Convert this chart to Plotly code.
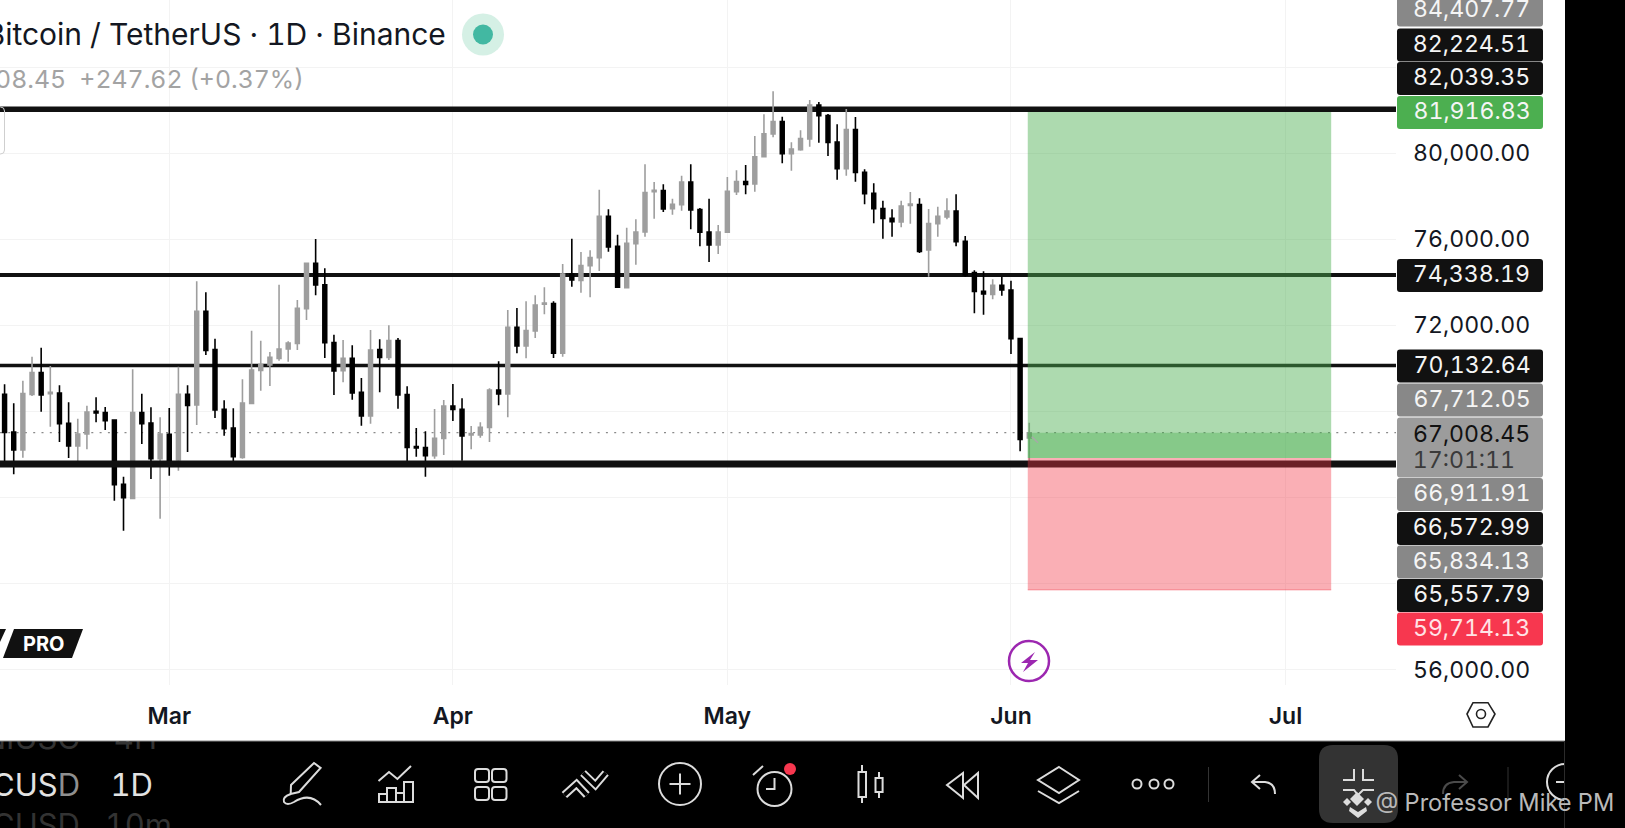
import pandas as pd
import plotly.graph_objects as go

# daily candles, first one is 11 Feb
start_date = "2026-02-11"
opens = [
    68792, 67042, 66205, 68792, 69799, 68823, 68854, 67444, 66391, 66949,
    68002, 67940, 67599, 64610, 63959, 67940, 67460, 65803, 66933, 65741,
    68792, 68296, 72649, 70868, 68095, 67228, 65865, 68374, 69907, 70155,
    70465, 70899, 71162, 72773, 74880, 73888, 71193, 69892, 70465, 68885,
    67785, 70868, 70512, 71286, 68777, 66360, 66314, 65942, 66748, 68250,
    68095, 66903, 66903, 67259, 68994, 68808, 71906, 71038, 71736, 72975,
    73006, 70698, 74384, 74090, 74772, 75143, 77064, 75670, 73749, 75794,
    76336, 78210, 78257, 77420, 77606, 78660, 77374, 76336, 75732, 76321,
    78210, 78675, 78566, 79836, 80890, 81463, 79976, 80162, 80657, 82237,
    81742, 80518, 79279, 81091, 79108, 78132, 77420, 76971, 76800, 77575,
    77606, 75499, 76723, 77033, 77311, 75902, 74446, 73578, 73439, 73857,
    73640, 71379, 66760.83,
]
highs = [
    69257, 68374, 69427, 70542, 70961, 70109, 69210, 68420, 67661, 68265,
    68653, 68204, 67630, 64966, 69954, 68823, 68188, 67723, 68157, 70078,
    69210, 74043, 73532, 71379, 68513, 68142, 69489, 71751, 71286, 70759,
    73888, 71255, 73176, 74880, 76010, 74647, 71565, 71317, 71069, 69551,
    71782, 71348, 71999, 71410, 69164, 67228, 67073, 68111, 68529, 69273,
    68607, 67321, 67491, 69071, 70326, 72711, 72804, 73114, 73393, 73765,
    73114, 74849, 76026, 75407, 75484, 78303, 77389, 76212, 76537, 76925,
    79481, 78660, 78551, 77885, 78954, 79481, 77451, 77885, 76661, 78892,
    79201, 79449, 80797, 81804, 82872, 81695, 80502, 81060, 82470, 82377,
    81819, 81339, 82051, 81680, 79248, 78597, 77792, 77389, 77792, 78194,
    77900, 77404, 77513, 77900, 78086, 76150, 74554, 74508, 74136, 74260,
    74074, 71404, 67475,
]
lows = [
    65663, 65075, 65849, 68715, 67987, 67290, 66577, 65834, 65586, 66236,
    67491, 67135, 63851, 62457, 63913, 66484, 64858, 63014, 65013, 65245,
    66112, 67367, 70620, 67692, 66871, 65663, 65803, 68343, 68963, 69179,
    70357, 70310, 70852, 72246, 73393, 70481, 68761, 69350, 68544, 67336,
    67429, 68885, 70388, 68126, 65508, 65895, 64966, 65803, 65973, 67553,
    65710, 66237, 66779, 66577, 68281, 67724, 70698, 70465, 71410, 72510,
    70481, 70543, 73796, 73517, 73300, 74524, 75422, 73749, 73718, 74818,
    76119, 76956, 77265, 77142, 77327, 76460, 75670, 74942, 75314, 76321,
    78055, 78086, 78210, 79821, 80735, 79526, 79186, 80115, 80301, 80487,
    79867, 78767, 78953, 78675, 77621, 76738, 76026, 76119, 76552, 76723,
    75360, 74260, 76119, 76924, 75669, 74260, 72556, 72494, 73207, 73377,
    70666, 66143, 65399,
]
closes = [
    67026, 66205, 68823, 69799, 68761, 68885, 67429, 66391, 66949, 67971,
    67925, 67568, 64594, 63990, 67940, 67429, 65803, 66949, 65679, 68792,
    68281, 72649, 70837, 68064, 67197, 65895, 68389, 69923, 70171, 70512,
    70899, 71178, 72789, 74880, 73873, 71193, 69876, 70465, 68854, 67785,
    70852, 70512, 71286, 68761, 66329, 66298, 65942, 66748, 68250, 68095,
    66856, 66965, 67259, 68994, 68808, 71906, 71038, 71751, 72944, 73037,
    70698, 74384, 74105, 74772, 75143, 77064, 75639, 73765, 75809, 76336,
    78164, 78272, 77405, 77622, 78660, 77358, 76321, 75732, 76336, 78226,
    78675, 78551, 79836, 80905, 81463, 79976, 80193, 80673, 82237, 81742,
    80502, 79279, 81091, 79108, 78117, 77420, 76971, 76816, 77544, 77637,
    75437, 76723, 77064, 77311, 75886, 74337, 73578, 73454, 73857, 73640,
    71379, 66701, 67008.45,
]

month_ticks = ["2026-03-01", "2026-04-01", "2026-05-01", "2026-06-01", "2026-07-01"]
month_labels = ["Mar", "Apr", "May", "Jun", "Jul"]
price_ticks = [56000, 60000, 64000, 68000, 72000, 76000, 80000, 84000]
price_labels = ["56,000.00", "", "", "", "72,000.00", "76,000.00", "80,000.00", ""]

x_range = ["2026-02-10 12:00", "2026-07-13 02:00"]

# horizontal levels and long position box
levels = [82039.35, 74338.19, 70132.64]
level_widths = [5.5, 4, 3.5]
floor_level = 65557.79
last_price = 67008.45
target_price = 81916.83
entry_price = 65834.13
stop_price = 59714.13
box_start = "2026-06-02 20:00"
box_end = "2026-07-06"

# price tags on the right: text, centre y, fill, text colour
tag_text = ["84,407.77", "82,224.51", "82,039.35", "81,916.83", "74,338.19", "70,132.64",
            "67,712.05", "66,911.91", "66,572.99", "65,834.13", "65,557.79", "59,714.13"]
tag_y = [10, 45, 78.5, 112.5, 275.5, 366, 400, 494.5, 528.5, 562, 595.5, 629]
tag_fill = ["#888888", "#111111", "#111111", "#4caf50", "#111111", "#111111",
            "#888888", "#888888", "#111111", "#888888", "#111111", "#f7374f"]

FONT = "Inter"
INK = "#dcdcdc"

shapes = []


def stroke(points, color=INK, width=2, closed=False, fill=None):
    path = "M " + " L ".join(f"{x} {y}" for x, y in points) + (" Z" if closed else "")
    shapes.append(dict(type="path", xref="x2", yref="y2", layer="above", path=path,
                       line=dict(color=color, width=width), fillcolor=fill))


def curve(path, color=INK, width=2):
    shapes.append(dict(type="path", xref="x2", yref="y2", layer="above", path=path,
                       line=dict(color=color, width=width)))


def solid(points, fill):
    path = "M " + " L ".join(f"{x} {y}" for x, y in points) + " Z"
    shapes.append(dict(type="path", xref="x2", yref="y2", layer="above", path=path,
                       line=dict(width=0), fillcolor=fill))


def ring(cx, cy, r, color=INK, width=2, fill=None):
    shapes.append(dict(type="circle", xref="x2", yref="y2", layer="above",
                       x0=cx - r, x1=cx + r, y0=cy - r, y1=cy + r,
                       line=dict(color=color, width=width), fillcolor=fill))


def rounded(x0, y0, x1, y1, r, fill=None, color=None, width=0):
    path = (f"M {x0 + r} {y0} L {x1 - r} {y0} Q {x1} {y0} {x1} {y0 + r} L {x1} {y1 - r} "
            f"Q {x1} {y1} {x1 - r} {y1} L {x0 + r} {y1} Q {x0} {y1} {x0} {y1 - r} "
            f"L {x0} {y0 + r} Q {x0} {y0} {x0 + r} {y0} Z")
    shapes.append(dict(type="path", xref="x2", yref="y2", layer="above", path=path,
                       line=dict(color=color or "rgba(0,0,0,0)", width=width), fillcolor=fill))


def price_box(y0, y1, fill, edge=None):
    shapes.append(dict(type="rect", xref="x", yref="y", layer="above", x0=box_start, x1=box_end,
                       y0=y0, y1=y1, line=dict(width=0), fillcolor=fill))
    if edge:
        shapes.append(dict(type="line", xref="x", yref="y", layer="above", x0=box_start, x1=box_end,
                           y0=y0, y1=y0, line=dict(color=edge, width=1.5)))


# levels between the grid and the candles, dotted last price too
for value, lw in zip(levels, level_widths):
    shapes.append(dict(type="line", xref="x", yref="y", layer="between", x0=x_range[0], x1=x_range[1],
                       y0=value, y1=value, line=dict(color="#111111", width=lw)))
shapes.append(dict(type="line", xref="x", yref="y", layer="between", x0=x_range[0], x1=x_range[1],
                   y0=last_price, y1=last_price, line=dict(color="#8a8a8a", width=1.2, dash="2px,6.3px")))

# floor line sits over the candles, then the position box over everything
shapes.append(dict(type="line", xref="x", yref="y", layer="above", x0=x_range[0], x1=x_range[1],
                   y0=floor_level, y1=floor_level, line=dict(color="#111111", width=7)))
price_box(entry_price, target_price, "rgba(76,175,80,0.46)")
price_box(entry_price, last_price, "rgba(76,175,80,0.40)")
price_box(stop_price, entry_price, "rgba(242,54,69,0.40)", edge="rgba(242,54,69,0.35)")

# toolbar background goes under the text row, bottom row trace has to clip against it
shapes.append(dict(type="rect", xref="paper", yref="paper", layer="below", x0=0, x1=1, y0=0, y1=87 / 828,
                   line=dict(width=0), fillcolor="#000000"))
stroke([(0, 741), (1565, 741)], "#8a8a8a", 1)

# small arrow by the last candle and the tool handle on the left
stroke([(1031.7, 436.7), (1038, 442.7)], "#a8a8a8", 1.5)
rounded(-8, 107, 4.5, 154, 4, color="#cfcfcf", width=1)

# PRO badge, lightning, settings hexagon
solid([(0, 629), (6, 629), (0, 642)], "#111111")
solid([(3, 658), (14, 629), (83, 629), (72, 658)], "#111111")
ring(1029, 661, 20, "#9c27b0", 2.5)
solid([(1035, 652), (1021, 663), (1028, 663), (1023, 672), (1038, 660), (1030, 660)], "#9c27b0")
stroke([(1467, 714), (1473, 702.7), (1488, 702.7), (1495, 714), (1488, 727), (1473, 727)], "#222222", 1.6, closed=True)
ring(1481, 714, 4.5, "#222222", 1.6)

# status dot by the title
ring(483, 34.5, 21, "rgba(0,0,0,0)", 0, "#d5f0e5")
ring(483, 34.5, 10, "rgba(0,0,0,0)", 0, "#42b8a2")

# price tags
for y, fill in zip(tag_y, tag_fill):
    rounded(1397, y - 16.6, 1543, y + 16.6, 3, fill)
rounded(1397, 417.5, 1543, 477.5, 3, "#9c9c9c")

# toolbar icons
stroke([(290.7, 794), (291, 785), (314, 763), (320.6, 768), (299, 792)], closed=True)
curve("M 290.7 794 Q 282 797 284 802 Q 287 806 294 802 Q 310 792 321 805")
stroke([(378.5, 781), (389, 772), (397.4, 779), (411, 766)])
for x0, y0, x1 in [(379, 794, 387), (387, 788, 396), (396, 793, 404), (404, 782, 413)]:
    stroke([(x0, y0), (x1, y0), (x1, 802), (x0, 802)], closed=True)
for x0, x1 in [(475, 489), (492, 506.5)]:
    for y0, y1 in [(769, 782), (787, 800)]:
        rounded(x0, y0, x1, y1, 3, color=INK, width=2)
for pts in [[(564.4, 795), (576.5, 784), (586.8, 795)], [(583, 773), (595.4, 785), (605.7, 773)]]:
    stroke(pts, INK, 8)
    stroke(pts, "#000000", 4)
ring(680, 784, 21)
stroke([(669.5, 784), (690.5, 784)])
stroke([(680, 773.5), (680, 794.5)])
ring(774.5, 789, 17)
stroke([(774.5, 778), (774.5, 789), (766, 789)])
stroke([(753, 775), (763, 766)])
ring(790, 769, 6, "rgba(0,0,0,0)", 0, "#f7374f")
stroke([(862, 765), (862, 772)])
stroke([(862, 797), (862, 803)])
stroke([(858.5, 772), (866, 772), (866, 797), (858.5, 797)], closed=True)
stroke([(879, 772), (879, 778)])
stroke([(879, 792), (879, 798)])
stroke([(875.5, 778), (882.6, 778), (882.6, 792), (875.5, 792)], closed=True)
stroke([(947, 785), (963, 773), (963, 798)], closed=True)
stroke([(964, 785), (978, 773), (978, 798)], closed=True)
stroke([(1059, 767), (1079, 780), (1059, 793), (1038, 780)], closed=True)
stroke([(1038, 791), (1059, 803), (1079, 791)])
for x in [1137, 1154, 1169]:
    ring(x, 784, 4.5)
stroke([(1208.5, 767), (1208.5, 802)], "#333333", 1)
stroke([(1260, 775), (1252, 782), (1260, 789)])
curve("M 1252 782 L 1265 782 Q 1275 783 1275 794")
rounded(1319, 745, 1398, 823, 14, "#333333")
stroke([(1343, 780), (1354, 780), (1354, 769)])
stroke([(1363, 769), (1363, 780), (1374, 780)])
stroke([(1343, 790), (1354, 790), (1358, 795), (1363, 790), (1374, 790)])
solid([(1357, 792), (1364, 799), (1357, 806), (1350, 799)], "#dddddd")
solid([(1347, 798), (1351, 802), (1347, 806), (1343, 802)], "#dddddd")
solid([(1368, 798), (1372, 802), (1368, 806), (1364, 802)], "#dddddd")
solid([(1350, 807), (1358, 812), (1366, 807), (1367, 811), (1358, 818), (1349, 811)], "#dddddd")
stroke([(1459, 775), (1467, 782), (1459, 789)], "#4a4a4a")
curve("M 1467 782 L 1454 782 Q 1443 783 1443 794", "#4a4a4a")
stroke([(1508, 767), (1508, 800)], "#333333", 1)
ring(1565, 782, 18)
stroke([(1556, 782), (1564, 782)])

# black bar on the right edge covers the clipped icon
shapes.append(dict(type="rect", xref="x2", yref="y2", layer="above", x0=1565, x1=1625, y0=0, y1=828,
                   line=dict(width=0), fillcolor="#000000"))
stroke([(1564.5, 741), (1564.5, 828)], "#2b2b2b", 1)


def note(text, x, y, size, color, anchor="center", weight=None):
    return dict(text=text, x=x, y=y, xref="x2", yref="y2", showarrow=False, xanchor=anchor, yanchor="middle",
                font=dict(family=FONT, size=size, color=color, weight=weight))


annotations = [
    note("Bitcoin / TetherUS · 1D · Binance", 445, 33.5, 30, "#131722", "right"),
    note("67,008.45  +247.62 (+0.37%)", 295, 79, 24.8, "#a3a3a3", "right"),
    note("PRO", 44, 644, 20, "#ffffff", weight=700),
    note("67,008.45", 1471.5, 433.5, 23.1, "#111111"),
    note("17:01:11", 1464, 460, 23.1, "#3a3a3a"),
    note("@ Professor Mike PM", 1617, 802, 23.6, "#b9b9b9", "right"),
]
for text, y in zip(tag_text, tag_y):
    annotations.append(note(text, 1471.5, y - 1.2, 23.1, "#f5f5f5"))
annotations[-1]["font"]["color"] = "#ffe3e6"

fig = go.Figure()
fig.add_trace(go.Candlestick(
    x=pd.date_range(start_date, periods=len(opens)),
    open=opens, high=highs, low=lows, close=closes,
    increasing=dict(line=dict(color="#9e9e9e", width=1.6), fillcolor="#9e9e9e"),
    decreasing=dict(line=dict(color="#000000", width=1.6), fillcolor="#000000"),
    whiskerwidth=0, showlegend=False, hoverinfo="skip",
))
# watchlist rows behind the toolbar, clipped at the toolbar's top edge
fig.add_trace(go.Scatter(
    x=[80, 157, 80, 153, 80, 172], y=[741, 741, 788, 788, 827.9, 827.9],
    xaxis="x3", yaxis="y3", mode="text", textposition="middle left", showlegend=False, hoverinfo="skip",
    text=["NIUSC", "4H", "CUS<span style='color:#8f8f8f'>D</span>", "1D", "CUSD", "10m"],
    textfont=dict(family=FONT, size=31, color=["#333333", "#333333", "#e2e2e2", "#e2e2e2", "#333333", "#333333"]),
))

grid = "#f3f3f3"
fig.update_layout(
    width=1625, height=828, autosize=False,
    margin=dict(l=0, r=0, t=0, b=0),
    paper_bgcolor="#ffffff", plot_bgcolor="rgba(0,0,0,0)",
    boxgap=0.4, showlegend=False,
    shapes=shapes, annotations=annotations,
    xaxis=dict(
        domain=[0, 1396 / 1625], range=x_range, type="date",
        rangeslider=dict(visible=False), tickmode="array", tickvals=month_ticks, ticktext=month_labels,
        tickfont=dict(family=FONT, size=23, color="#131722", weight=600), ticks="", ticklabelstandoff=15,
        showgrid=True, gridcolor=grid, gridwidth=1, zeroline=False, showline=False, anchor="y",
    ),
    yaxis=dict(
        domain=[143 / 828, 1], range=[55285, 87117], side="right", tickmode="array",
        tickvals=price_ticks, ticktext=price_labels, ticklabelstandoff=16,
        tickfont=dict(family=FONT, size=23.1, color="#131722"), ticks="",
        showgrid=True, gridcolor=grid, gridwidth=1, zeroline=False, showline=False, anchor="x",
    ),
    # whole page in pixels, for the interface drawn round the chart
    xaxis2=dict(domain=[0, 1], range=[0, 1625], visible=False, anchor="y2", fixedrange=True),
    yaxis2=dict(domain=[0, 1], range=[828, 0], visible=False, anchor="x2", fixedrange=True),
    xaxis3=dict(domain=[0, 1], range=[0, 1625], visible=False, anchor="y3", fixedrange=True),
    yaxis3=dict(domain=[0, 87 / 828], range=[828, 741], visible=False, anchor="x3", fixedrange=True),
)

# tabular figures, the reference's price column lines up digit for digit
page_js = ("document.body.style.margin='0';document.body.style.overflow='hidden';"
           "var s=document.createElement('style');s.textContent='text{font-feature-settings:\"tnum\"}';"
           "document.head.appendChild(s);")
fig.write_html("out.html", config=dict(displayModeBar=False), post_script=page_js)
